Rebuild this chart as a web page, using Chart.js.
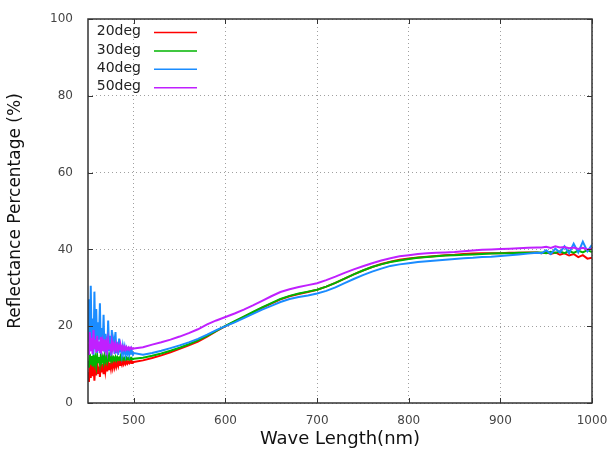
<!DOCTYPE html>
<html>
<head>
<meta charset="utf-8">
<script src="https://cdn.jsdelivr.net/npm/chart.js@4"></script>
<style>
  html, body { margin: 0; padding: 0; background: #fff; }
  #wrap { width: 610px; height: 457px; }
</style>
</head>
<body>
<div id="wrap"><canvas id="myChartReflect"></canvas></div>
<script>
const wavelengths = [
  450, 451, 452, 453, 454, 455, 456, 457, 458, 459,
  460, 461, 462, 463, 464, 465, 466, 467, 468, 469,
  470, 471, 472, 473, 474, 475, 476, 477, 478, 479,
  480, 481, 482, 483, 484, 485, 486, 487, 488, 489,
  490, 491, 492, 493, 494, 495, 496, 497, 498, 499,
  500,
  510, 520, 530, 540, 550, 560, 570, 580, 590, 600, 610, 620, 630, 640, 650, 660, 670, 680, 690, 700,
  710, 720, 730, 740, 750, 760, 770, 780, 790, 800, 810, 820, 830, 840, 850, 860, 870, 880, 890, 900,
  910, 920, 930, 940,
  945, 950, 955, 960, 965, 970, 975, 980, 985, 990, 995, 1000
];

const labels = ['20deg', '30deg', '40deg', '50deg'];

const deg20 = [
  8.0, 5.5, 10.5, 6.5, 11.2, 7.0, 9.8, 5.8, 10.6, 7.2,
  11.0, 7.8, 9.5, 6.8, 10.8, 8.0, 10.2, 7.5, 11.0, 8.4,
  10.4, 8.2, 10.9, 8.8, 10.5, 9.0, 10.8, 9.2, 10.6, 9.4,
  11.0, 9.6, 10.7, 9.7, 11.0, 9.9, 10.8, 10.0, 10.9, 10.1,
  10.8, 10.2, 10.9, 10.3, 10.8, 10.4, 10.9, 10.4, 10.8, 10.5,
  10.7,
  11.1, 11.7, 12.4, 13.2, 14.1, 15.0, 16.0, 17.3, 18.7, 20.0, 21.2, 22.4, 23.6, 24.8, 25.9, 27.0, 27.8, 28.4, 28.9, 29.5,
  30.3, 31.3, 32.4, 33.5, 34.5, 35.4, 36.2, 36.8, 37.3, 37.6, 37.9, 38.1, 38.3, 38.5, 38.6, 38.8, 38.9, 39.0, 39.0, 39.0,
  39.1, 39.1, 39.2, 39.2,
  39.0, 39.3, 38.8, 39.2, 38.6, 39.0, 38.4, 38.8, 38.0, 38.5, 37.6, 37.8
];

const deg30 = [
  11.0, 9.2, 12.8, 10.0, 12.2, 9.5, 12.6, 10.4, 11.8, 9.8,
  12.4, 10.6, 12.0, 10.2, 12.5, 10.8, 11.9, 10.5, 12.3, 10.9,
  12.0, 10.8, 12.2, 11.0, 11.9, 11.0, 12.1, 11.1, 11.8, 11.2,
  12.0, 11.2, 11.9, 11.3, 11.8, 11.2, 11.9, 11.3, 11.8, 11.3,
  11.7, 11.3, 11.8, 11.4, 11.7, 11.3, 11.7, 11.4, 11.6, 11.4,
  11.5,
  11.8, 12.3, 12.9, 13.6, 14.4, 15.3, 16.3, 17.5, 18.8, 20.1, 21.3, 22.5, 23.7, 24.9, 26.0, 27.1, 27.9, 28.5, 29.0, 29.5,
  30.3, 31.3, 32.4, 33.5, 34.5, 35.4, 36.1, 36.7, 37.1, 37.5, 37.8, 38.0, 38.2, 38.4, 38.5, 38.6, 38.7, 38.8, 38.9, 39.0,
  39.0, 39.1, 39.1, 39.2,
  39.2, 39.0, 39.4, 39.1, 39.5, 39.0, 39.6, 39.1, 39.7, 39.2, 39.8, 39.3
];

const deg40 = [
  16.0, 27.0, 13.5, 30.5, 15.0, 22.0, 12.5, 29.0, 14.0, 24.5,
  13.0, 21.0, 16.5, 26.0, 12.8, 19.5, 14.5, 23.0, 13.2, 18.0,
  15.5, 12.6, 21.5, 13.8, 17.5, 12.4, 19.0, 14.2, 16.0, 12.8,
  18.5, 13.0, 15.8, 12.5, 16.8, 13.4, 15.0, 12.7, 14.8, 13.2,
  14.5, 12.6, 14.0, 12.9, 13.8, 12.5, 13.6, 12.8, 13.4, 12.6,
  13.0,
  12.6, 13.0, 13.6, 14.3, 15.0, 15.8, 16.7, 17.8, 19.0, 20.0, 21.0, 22.1, 23.2, 24.3, 25.3, 26.3, 27.1, 27.6, 28.0, 28.5,
  29.2, 30.1, 31.2, 32.3, 33.3, 34.2, 35.0, 35.7, 36.1, 36.4, 36.7, 36.9, 37.1, 37.3, 37.5, 37.7, 37.8, 38.0, 38.1, 38.3,
  38.5, 38.7, 38.9, 39.1,
  39.0, 39.8, 38.8, 40.2, 39.2, 40.8, 39.0, 41.5, 39.2, 42.0, 39.5, 41.2
];

const deg50 = [
  15.5, 12.5, 18.5, 13.5, 17.0, 12.8, 19.0, 14.0, 16.5, 13.2,
  17.5, 13.8, 16.0, 13.0, 17.2, 14.2, 15.8, 13.5, 16.6, 14.0,
  15.6, 13.6, 16.2, 14.1, 15.4, 13.8, 15.9, 14.0, 15.2, 13.9,
  15.3, 14.0, 15.0, 13.8, 14.9, 14.0, 14.8, 13.9, 14.7, 14.0,
  14.6, 13.9, 14.5, 14.0, 14.4, 13.9, 14.4, 14.1, 14.3, 14.1,
  14.2,
  14.5, 15.2, 15.8, 16.5, 17.3, 18.2, 19.2, 20.5, 21.5, 22.4, 23.3, 24.3, 25.4, 26.6, 27.8, 28.9, 29.6, 30.2, 30.7, 31.2,
  32.0, 32.9, 33.9, 34.8, 35.6, 36.4, 37.1, 37.7, 38.2, 38.5, 38.8, 39.0, 39.1, 39.2, 39.3, 39.5, 39.7, 39.9, 40.0, 40.1,
  40.2, 40.3, 40.4, 40.5,
  40.5, 40.7, 40.4, 40.8, 40.5, 40.6, 40.3, 40.5, 40.1, 40.4, 40.0, 40.2
];

const xTicks = [500, 600, 700, 800, 900, 1000];
const yTicks = [0, 20, 40, 60, 80, 100];

const series = [deg20, deg30, deg40, deg50];
const colors = ['#ff0000', '#00b400', '#1a8cff', '#c020ff'];

// gnuplot style: frame, inward ticks and the key inside the plot
const framePlugin = {
  id: 'frame',
  afterDatasetsDraw(chart) {
    const c = chart.ctx;
    const a = chart.chartArea;
    const xs = chart.scales.x, ys = chart.scales.y;
    c.save();
    c.strokeStyle = '#333';
    c.lineWidth = 1.5;
    c.strokeRect(a.left, a.top, a.right - a.left, a.bottom - a.top);
    c.lineWidth = 1;
    c.beginPath();
    xTicks.forEach(v => {
      const px = Math.round(xs.getPixelForValue(v)) + 0.5;
      c.moveTo(px, a.bottom); c.lineTo(px, a.bottom - 5);
      c.moveTo(px, a.top); c.lineTo(px, a.top + 5);
    });
    yTicks.forEach(v => {
      const py = Math.round(ys.getPixelForValue(v)) + 0.5;
      c.moveTo(a.left, py); c.lineTo(a.left + 5, py);
      c.moveTo(a.right, py); c.lineTo(a.right - 5, py);
    });
    c.stroke();

    // key
    c.font = '14px "DejaVu Sans"';
    c.textAlign = 'right';
    c.textBaseline = 'middle';
    chart.data.datasets.forEach((ds, i) => {
      const y = a.top + 12.5 + i * 18.4;
      c.fillStyle = '#222';
      c.fillText(ds.label, a.left + 53, y);
      c.strokeStyle = ds.borderColor;
      c.lineWidth = 1.5;
      c.beginPath();
      c.moveTo(a.left + 66, y + 1);
      c.lineTo(a.left + 109, y + 1);
      c.stroke();
    });
    c.restore();
  }
};

const ctx = document.getElementById('myChartReflect');
new Chart(ctx, {
  type: 'line',
  data: {
    datasets: series.map((arr, i) => ({
      label: labels[i],
      data: wavelengths.map((w, j) => ({ x: w, y: arr[j] })),
      borderColor: colors[i],
      borderWidth: 2,
      pointRadius: 0,
      tension: 0,
      fill: false,
      order: 3 - i
    }))
  },
  options: {
    responsive: true,
    maintainAspectRatio: false,
    animation: false,
    layout: { padding: { top: 19, right: 18, left: 0, bottom: 0 } },
    plugins: {
      legend: { display: false },
      tooltip: { enabled: false }
    },
    scales: {
      x: {
        type: 'linear',
        min: 450,
        max: 1000,
        afterBuildTicks: s => { s.ticks = xTicks.map(v => ({ value: v })); },
        afterFit: s => { s.height = 54; s.paddingLeft = 0; s.paddingRight = 0; },
        grid: { color: '#a0a0a0', drawTicks: false, lineWidth: 1 },
        border: { display: false, dash: [1, 3] },
        ticks: {
          padding: 11,
          color: '#444',
          font: { family: 'DejaVu Sans', size: 12 },
          callback: v => String(v)
        },
        title: {
          display: true,
          text: 'Wave Length(nm)',
          color: '#111',
          font: { family: 'DejaVu Sans', size: 18 },
          padding: { top: 0, bottom: 7 }
        }
      },
      y: {
        min: 0,
        max: 100,
        afterBuildTicks: s => { s.ticks = yTicks.map(v => ({ value: v })); },
        afterFit: s => { s.width = 88; s.paddingTop = 0; s.paddingBottom = 0; },
        grid: { color: '#a0a0a0', drawTicks: false, lineWidth: 1 },
        border: { display: false, dash: [1, 3] },
        ticks: {
          padding: 15,
          color: '#444',
          font: { family: 'DejaVu Sans', size: 12 },
          callback: v => String(v)
        },
        title: {
          display: true,
          text: 'Reflectance Percentage (%)',
          color: '#111',
          font: { family: 'DejaVu Sans', size: 17 },
          padding: { top: 5, bottom: 0 }
        }
      }
    }
  },
  plugins: [framePlugin]
});
</script>
</body>
</html>
